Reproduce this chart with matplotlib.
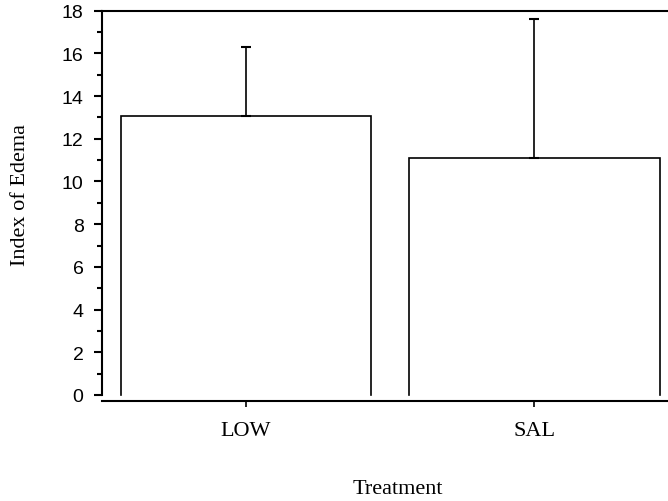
import matplotlib
matplotlib.use("Agg")
import matplotlib.pyplot as plt
import numpy as np

categories = ["LOW", "SAL"]
means = [13.05, 11.08]
errors = [3.25, 6.55]
yticks = [0, 2, 4, 6, 8, 10, 12, 14, 16, 18]

W, H = 668, 502
fig = plt.figure(figsize=(W / 100, H / 100), dpi=100)
ax = fig.add_axes([0.1522, 0.2112, 1 - 0.1522, 0.9767 - 0.2112])

ax.spines["right"].set_visible(False)
ax.spines["bottom"].set_position(("outward", 4.3))
for s in ["left", "top", "bottom"]:
    ax.spines[s].set_linewidth(1.5)

x = np.arange(len(categories))
w = 0.87
ax.bar(x, means, width=w, color="white", edgecolor="none", zorder=1)
for xi, m in zip(x, means):
    ax.plot([xi - w / 2, xi - w / 2, xi + w / 2, xi + w / 2], [0, m, m, 0],
            color="black", lw=1.2, zorder=2, clip_on=False, solid_joinstyle="miter")
ax.errorbar(x, means, yerr=[np.zeros(len(errors)), errors], fmt="none",
            ecolor="black", elinewidth=1.2, capsize=3.5, capthick=1.5, zorder=3)

ax.set_xlim(-0.501, 1.464)
ax.set_ylim(0, 18)
ax.set_yticks(yticks)
ax.set_yticks(np.arange(1, 18, 2), minor=True)
ax.set_xticks(x)
ax.set_xticklabels(categories)
ax.tick_params(axis="y", which="major", length=6, width=1.5, direction="out", pad=7,
               labelsize=14, labelfontfamily="Liberation Sans")
ax.tick_params(axis="y", which="minor", length=3.5, width=1.5, direction="out")
ax.tick_params(axis="x", which="major", length=4, width=1.2, direction="out", pad=10.5,
               labelsize=16, labelfontfamily="Liberation Serif")

fig.text(21 / W, 1 - 194.5 / H, "Index of Edema", rotation=90, ha="center", va="center",
         fontfamily="Liberation Serif", fontsize=16)
fig.text(398 / W, 1 - 494 / H, "Treatment", ha="center", va="baseline",
         fontfamily="Liberation Serif", fontsize=16)

fig.savefig("out.png", dpi=100)
